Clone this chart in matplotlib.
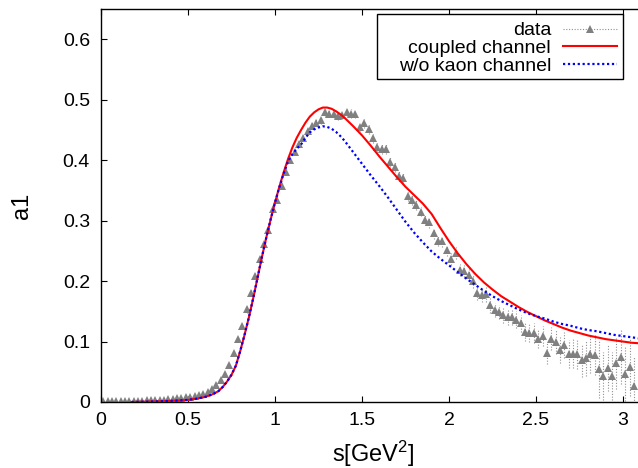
import numpy as np
import matplotlib
matplotlib.use("Agg")
import matplotlib.pyplot as plt
from matplotlib.lines import Line2D
from matplotlib.patches import Rectangle
from matplotlib.ticker import FuncFormatter

plt.rcParams['font.family'] = ['Liberation Sans', 'DejaVu Sans']
plt.rcParams['mathtext.default'] = 'regular'

# ---- data (bin centres every 0.025 GeV^2 starting at 0.0125) ----
a1_data = [
    0.002, 0.002, 0.002, 0.002, 0.002, 0.002, 0.002, 0.002, 0.002, 0.002,
    0.003, 0.003, 0.003, 0.004, 0.004, 0.005, 0.005, 0.006, 0.007, 0.008,
    0.009, 0.010, 0.012, 0.014, 0.017, 0.022, 0.028, 0.036, 0.047, 0.062,
    0.081, 0.104, 0.126, 0.153, 0.180, 0.208, 0.236, 0.261, 0.285, 0.319,
    0.334, 0.358, 0.381, 0.400, 0.414, 0.427, 0.437, 0.448, 0.457, 0.462,
    0.466, 0.479, 0.477, 0.476, 0.473, 0.474, 0.480, 0.477, 0.476, 0.455,
    0.461, 0.451, 0.436, 0.421, 0.418, 0.418, 0.397, 0.389, 0.374, 0.370,
    0.340, 0.334, 0.326, 0.315, 0.301, 0.297, 0.279, 0.267, 0.266, 0.251,
    0.237, 0.247, 0.218, 0.217, 0.210, 0.200, 0.180, 0.177, 0.178, 0.160,
    0.152, 0.149, 0.144, 0.140, 0.140, 0.136, 0.130, 0.116, 0.114, 0.114,
    0.105, 0.109, 0.081, 0.105, 0.100, 0.086, 0.094, 0.079, 0.080, 0.079,
    0.069, 0.072, 0.079, 0.078, 0.054, 0.043, 0.057, 0.043, 0.064, 0.075,
    0.046, 0.058, 0.026,
]
a1_err = [
    0.002, 0.002, 0.002, 0.002, 0.002, 0.002, 0.002, 0.002, 0.002, 0.002,
    0.002, 0.002, 0.002, 0.002, 0.002, 0.002, 0.002, 0.002, 0.002, 0.002,
    0.003, 0.003, 0.003, 0.003, 0.003, 0.003, 0.003, 0.004, 0.004, 0.004,
    0.004, 0.004, 0.005, 0.005, 0.005, 0.005, 0.005, 0.005, 0.005, 0.005,
    0.005, 0.005, 0.005, 0.005, 0.005, 0.005, 0.005, 0.006, 0.006, 0.006,
    0.006, 0.006, 0.006, 0.006, 0.006, 0.006, 0.007, 0.007, 0.007, 0.007,
    0.007, 0.007, 0.007, 0.008, 0.008, 0.008, 0.008, 0.008, 0.008, 0.008,
    0.008, 0.008, 0.008, 0.008, 0.009, 0.009, 0.009, 0.009, 0.009, 0.009,
    0.010, 0.010, 0.010, 0.010, 0.010, 0.011, 0.011, 0.011, 0.012, 0.012,
    0.012, 0.012, 0.013, 0.013, 0.013, 0.014, 0.014, 0.015, 0.015, 0.016,
    0.016, 0.017, 0.018, 0.019, 0.020, 0.021, 0.022, 0.023, 0.024, 0.025,
    0.027, 0.029, 0.031, 0.033, 0.047, 0.040, 0.038, 0.040, 0.042, 0.045,
    0.045, 0.048, 0.050,
]
s_data = np.round(0.0125 + 0.025 * np.arange(len(a1_data)), 4)

s_curve = [0.175, 0.2, 0.25, 0.3, 0.35, 0.4, 0.45, 0.5, 0.55, 0.6,
           0.625, 0.65, 0.675, 0.7, 0.725, 0.75, 0.775, 0.8, 0.825, 0.85,
           0.875, 0.9, 0.925, 0.95, 0.975, 1.0, 1.025, 1.05, 1.075, 1.1,
           1.125, 1.15, 1.175, 1.2, 1.225, 1.25, 1.275, 1.3, 1.325, 1.35,
           1.375, 1.4, 1.45, 1.5, 1.55, 1.6, 1.65, 1.7, 1.75, 1.8,
           1.85, 1.9, 1.95, 2.0, 2.05, 2.1, 2.15, 2.2, 2.25, 2.3,
           2.35, 2.4, 2.45, 2.5, 2.55, 2.6, 2.65, 2.7, 2.75, 2.8,
           2.85, 2.9, 2.95, 3.0, 3.05, 3.1]
coupled = [0.0, 0.0002, 0.0005, 0.0008, 0.0012, 0.0018, 0.0025, 0.0035, 0.0055, 0.0085,
           0.011, 0.014, 0.018, 0.025, 0.034, 0.045, 0.060, 0.084, 0.111, 0.140,
           0.172, 0.206, 0.240, 0.272, 0.302, 0.330, 0.356, 0.380, 0.402, 0.421,
           0.437, 0.450, 0.462, 0.472, 0.479, 0.484, 0.487, 0.487, 0.485, 0.481,
           0.476, 0.470, 0.456, 0.441, 0.424, 0.406, 0.389, 0.372, 0.356, 0.342,
           0.328, 0.311, 0.288, 0.266, 0.246, 0.228, 0.212, 0.198, 0.186, 0.175,
           0.166, 0.157, 0.149, 0.142, 0.135, 0.129, 0.123, 0.118, 0.114, 0.110,
           0.107, 0.104, 0.102, 0.100, 0.098, 0.097]
no_kaon = [0.0, 0.0002, 0.0005, 0.0008, 0.0012, 0.0018, 0.0025, 0.0035, 0.0055, 0.0085,
           0.011, 0.014, 0.018, 0.025, 0.034, 0.045, 0.060, 0.084, 0.111, 0.140,
           0.172, 0.206, 0.240, 0.272, 0.302, 0.330, 0.355, 0.378, 0.398, 0.410,
           0.419, 0.426, 0.437, 0.446, 0.451, 0.454, 0.456, 0.455, 0.452, 0.447,
           0.440, 0.432, 0.413, 0.394, 0.375, 0.357, 0.338, 0.318, 0.298, 0.280,
           0.264, 0.249, 0.237, 0.226, 0.215, 0.204, 0.194, 0.184, 0.175, 0.167,
           0.160, 0.153, 0.147, 0.142, 0.138, 0.133, 0.129, 0.126, 0.122, 0.119,
           0.117, 0.114, 0.111, 0.109, 0.107, 0.105]

x_ticks = [0, 0.5, 1, 1.5, 2, 2.5, 3]
y_ticks = [0, 0.1, 0.2, 0.3, 0.4, 0.5, 0.6]

W, H = 638, 468
fig = plt.figure(figsize=(W / 100, H / 100), dpi=100)
ax = fig.add_axes([101 / W, 1 - 402 / H, (W - 101) / W, (402 - 9) / H])

eb = ax.errorbar(s_data, a1_data, yerr=a1_err, fmt='^', color='#808080',
                 markersize=6, markeredgewidth=0, ecolor='#909090',
                 elinewidth=0.8, capsize=2.2, capthick=0.8, zorder=2)
for lc in eb[2]:
    lc.set_linestyle((0, (1, 1.5)))

ax.plot(s_curve, coupled, color='#ff0000', lw=1.5, zorder=3)
ax.plot(s_curve, no_kaon, color='#0000ff', lw=1.6, linestyle=(0, (1, 1.2)), zorder=4)

ax.set_xlim(0, (W - 101) / 174.0)
ax.set_ylim(0, 0.65)
ax.set_xticks(x_ticks)
ax.set_yticks(y_ticks)
fmt = FuncFormatter(lambda v, p: '%g' % v)
ax.xaxis.set_major_formatter(fmt)
ax.yaxis.set_major_formatter(fmt)
ax.tick_params(direction='in', length=4.5, width=0.8, labelsize=14,
               top=True, right=False, colors='black')
ax.tick_params(axis='x', pad=7)
ax.tick_params(axis='y', pad=8)
ax.spines['right'].set_visible(False)
for sp in ['left', 'top', 'bottom']:
    ax.spines[sp].set_linewidth(1.0)

fig.text(373 / W, 1 - 462 / H, r's[GeV$^2$]', ha='center', va='baseline', fontsize=17)
fig.text(22 / W, 1 - 206 / H, 'a1', ha='center', va='center', rotation=90, fontsize=17)

# legend frame drawn as a box (gnuplot style, wide left padding)
box = Rectangle((377 / W, 1 - 79 / H), (623 - 377) / W, (79 - 14) / H,
                transform=fig.transFigure, facecolor='white', edgecolor='black',
                lw=1.0, clip_on=False, zorder=4.5)
ax.add_patch(box)

h_data = Line2D([0], [0], color='#909090', ls=(0, (1, 1.5)), lw=0.8,
                marker='^', markersize=6, markerfacecolor='#808080',
                markeredgewidth=0)
h_red = Line2D([0], [0], color='#ff0000', lw=1.5)
h_blue = Line2D([0], [0], color='#0000ff', lw=1.6, ls=(0, (1, 1.2)))
leg = ax.legend([h_data, h_red, h_blue],
                ['data', 'coupled channel', 'w/o kaon channel'],
                loc='upper right', bbox_to_anchor=(623 / W, 1 - 16 / H),
                bbox_transform=fig.transFigure, borderaxespad=0,
                markerfirst=False, numpoints=1, fontsize=14,
                handlelength=2.8, handletextpad=0.6, labelspacing=0.0,
                borderpad=0.3, frameon=False)
leg.set_zorder(5)

fig.savefig('out.png', dpi=100)
